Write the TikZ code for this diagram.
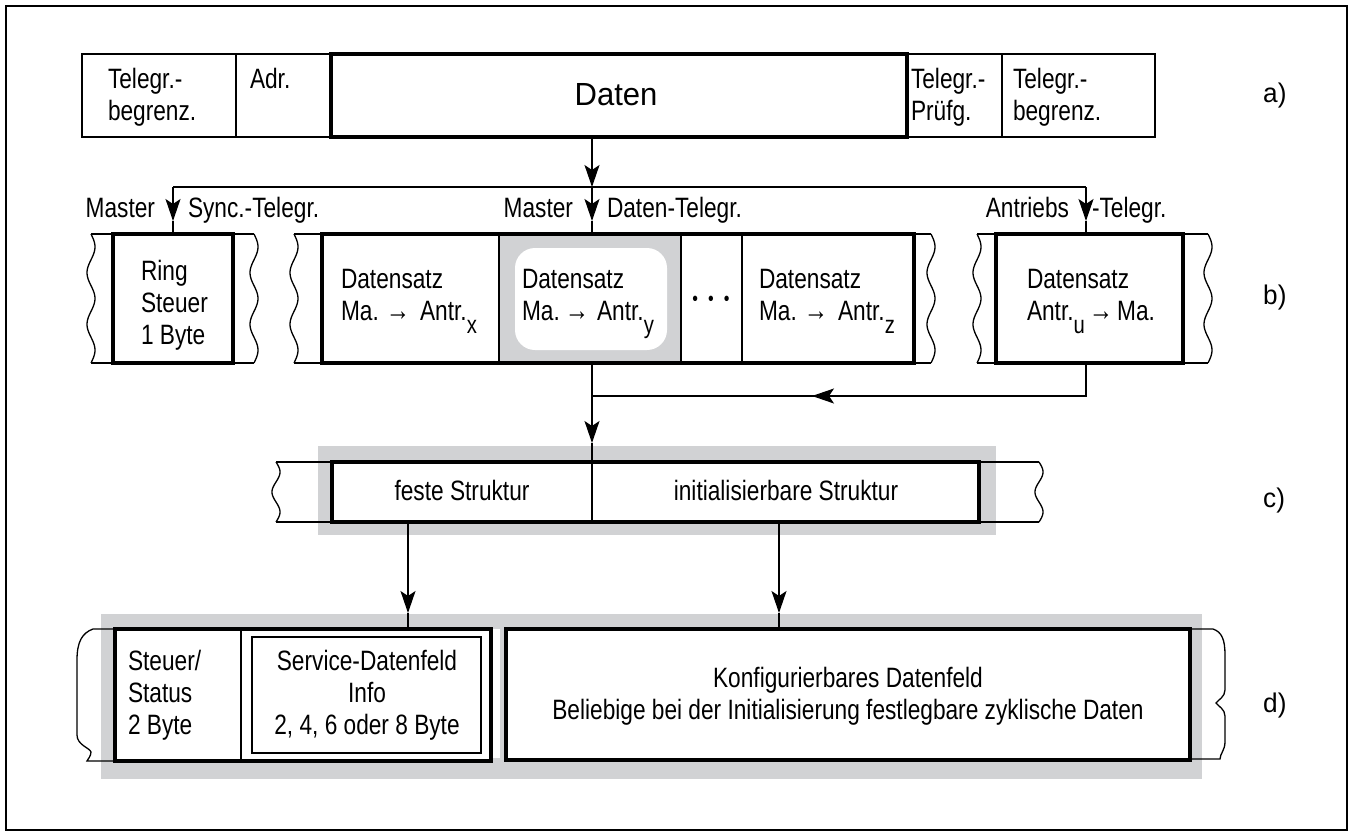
\documentclass[tikz,border=0pt]{standalone}
\usepackage{fontspec}
\setmainfont{Liberation Sans}[FakeStretch=0.81]
\newfontfamily\normfont{Liberation Sans}[FakeStretch=0.97]
\usetikzlibrary{arrows.meta}
\definecolor{bandgray}{RGB}{209,210,212}
\newcommand\mltext[2]{\begin{tabular}[t]{@{}#1@{}}#2\end{tabular}}
\newcommand\lowsub[1]{\raisebox{-13pt}{\fontsize{25}{25}\selectfont #1}}
\newcommand\smallarr{{\fontsize{30}{30}\selectfont →}}
\newcommand\wavyedge[4]{\draw[ln] plot[domain=0:1,samples=60,smooth,variable=\t] ({#1+4*sin(\t*#4)},{#2+\t*(#3-#2)});}
\begin{document}
\begin{tikzpicture}[x=1pt,y=-1pt,
  ln/.style={line width=1.3pt},
  bx/.style={draw,line width=3.2pt,fill=white,inner sep=0pt,outer sep=0pt,anchor=north west},
  txt/.style={font=\fontsize{28}{32}\selectfont,inner sep=0pt,outer sep=0pt},
  lbl/.style={font=\normfont\fontsize{27}{30}\selectfont,inner sep=0pt,anchor=base west},
  arr/.style={ln,-{Stealth[length=22pt,width=15pt,inset=5pt]}}]
\useasboundingbox (0,0) rectangle (1353,836);
% outer frame
\draw[ln] (6,6) rectangle (1347,830);

% ---------------- row a ----------------
\draw[ln] (82,54) rectangle (1155,137);
\draw[ln] (236,54) -- (236,137);
\draw[ln] (1002,54) -- (1002,137);
\node[bx,minimum width=576pt,minimum height=83pt] (daten) at (331,54) {};
\node[txt,anchor=base west] (ta1) at (108,88) {\mltext{l}{Telegr.-\\begrenz.}};
\node[txt,anchor=base west] (ta2) at (250,88) {Adr.};
\node[font=\normfont\fontsize{32}{36}\selectfont,inner sep=0pt,anchor=base] (ta3) at (616,105) {Daten};
\node[txt,anchor=base west] (ta4) at (911,88) {\mltext{l}{Telegr.-\\Prüfg.}};
\node[txt,anchor=base west] (ta5) at (1013,88) {\mltext{l}{Telegr.-\\begrenz.}};
\node[lbl] (la) at (1263,102) {a)};

% junction line
\coordinate (j0) at (592,187);
\coordinate (jl) at (173,187);
\coordinate (jr) at (1086,187);
\draw[arr] (daten.south -| j0) -- (j0);
\draw[ln] (jl) -- (jr);

% ---------------- row b ----------------
% Ring group
\draw[ln] (91,234) -- (254,234);
\draw[ln] (91,363) -- (254,363);
\wavyedge{91}{234}{363}{900}
\wavyedge{254}{234}{363}{900}
\node[bx,minimum width=120pt,minimum height=129pt] (ring) at (113,234) {};
\node[txt,anchor=base west] (tring) at (141,280) {\mltext{l}{Ring\\Steuer\\1 Byte}};

% middle group
\draw[ln] (294,234) -- (931,234);
\draw[ln] (294,363) -- (931,363);
\wavyedge{294}{234}{363}{900}
\wavyedge{931}{234}{363}{900}
\node[bx,minimum width=592pt,minimum height=129pt] (mid) at (322,234) {};
\fill[bandgray] (499,234) rectangle (681,363);
\fill[white,rounded corners=20pt] (515,248) rectangle (667,350);
\draw[bx,fill=none] (322,234) rectangle (914,363);
\draw[ln] (499,234) -- (499,363);
\draw[ln] (681,234) -- (681,363);
\draw[ln] (742,234) -- (742,363);
\node[txt,anchor=base west] (tb1) at (341,288) {\mltext{l}{Datensatz\\Ma.\hspace{7pt}\smallarr\hspace{10pt}Antr.\lowsub{x}}};
\node[txt,anchor=base west] (tb2) at (522,288) {\mltext{l}{Datensatz\\Ma.\hspace{5pt}\smallarr\hspace{8pt}Antr.\lowsub{y}}};
\node[font=\fontsize{20}{20}\selectfont,inner sep=0pt,anchor=base] (dots) at (711,305) {•\hspace{10pt}•\hspace{10pt}•};
\node[txt,anchor=base west] (tb4) at (759,288) {\mltext{l}{Datensatz\\Ma.\hspace{7pt}\smallarr\hspace{10pt}Antr.\lowsub{z}}};

% right group
\draw[ln] (977,234) -- (1208,234);
\draw[ln] (977,363) -- (1208,363);
\wavyedge{977}{234}{363}{900}
\wavyedge{1208}{234}{363}{900}
\node[bx,minimum width=187pt,minimum height=129pt] (antr) at (996,234) {};
\node[txt,anchor=base west] (tb5) at (1027,288) {\mltext{l}{Datensatz\\Antr.\lowsub{u}\hspace{4pt}\smallarr\hspace{4pt}Ma.}};
\node[lbl] (lb) at (1263,304) {b)};

% branch arrows and labels
\draw[arr] (jl) -- (173,221);
\draw[ln] (173,221) -- (ring.north -| jl);
\draw[arr] (j0) -- (592,221);
\draw[ln] (592,221) -- (mid.north -| j0);
\draw[arr] (jr) -- (1086,221);
\draw[ln] (1086,221) -- (antr.north -| jr);
\node[txt,anchor=base east] (m1) at (155,217) {Master};
\node[txt,anchor=base west] (m2) at (188,217) {Sync.-Telegr.};
\node[txt,anchor=base east] (m3) at (573,217) {Master};
\node[txt,anchor=base west] (m4) at (607,217) {Daten-Telegr.};
\node[txt,anchor=base east] (m5) at (1069,217) {Antriebs};
\node[txt,anchor=base west] (m6) at (1092,217) {-Telegr.};

% return path
\coordinate (rb) at (1086,396);
\coordinate (mb) at (592,396);
\draw[ln] (antr.south -| rb) -- (rb) -- (mb);
\draw[arr] (rb) -- (812,396);

% ---------------- row c ----------------
\fill[bandgray] (318,446) rectangle (996,535);
\node[bx,minimum width=647pt,minimum height=60pt] (cbox) at (332,462) {};
\draw[arr] (mid.south -| mb) -- (592,443);
\draw[ln] (592,443) -- (cbox.north -| mb);
\draw[ln] (592,462) -- (592,522);
\draw[ln] (276,462) -- (332,462);
\draw[ln] (276,522) -- (332,522);
\draw[ln] (979,462) -- (1039,462);
\draw[ln] (979,522) -- (1039,522);
\wavyedge{276}{462}{522}{540}
\wavyedge{1039}{462}{522}{540}
\node[txt,anchor=base] (tc1) at (462,500) {feste Struktur};
\node[txt,anchor=base] (tc2) at (786,500) {initialisierbare Struktur};
\node[lbl] (lc) at (1263,507) {c)};

% ---------------- row d ----------------
\fill[bandgray] (101,614) rectangle (1202,779);
\fill[white] (491,629) rectangle (500,758);
\node[bx,minimum width=376pt,minimum height=132pt] (dl) at (115,629) {};
\node[bx,minimum width=684pt,minimum height=131pt] (dr) at (506,629) {};
\draw[ln] (241,629) -- (241,761);
\draw[ln] (252,637) rectangle (481,753);
\node[txt,anchor=base west] (td1) at (128,670) {\mltext{l}{Steuer/\\Status\\2 Byte}};
\node[txt,anchor=base] (td2) at (367,670) {\mltext{c}{Service-Datenfeld\\Info\\2, 4, 6 oder 8 Byte}};
\node[txt,anchor=base] (td3) at (848,687) {\mltext{c}{Konfigurierbares Datenfeld\\Beliebige bei der Initialisierung festlegbare zyklische Daten}};
\node[lbl] (ld) at (1263,712) {d)};
% braces
\draw[ln] (dl.north west) -- (93,629) .. controls (82,633) and (77,642) .. (77,660) -- (77,735)
  .. controls (77,745) and (90,748) .. (91,752) .. controls (91,756) and (88,759) .. (87,761) -- (dl.south west);
\draw[ln] (dr.north east) -- (1213,629) .. controls (1222,632) and (1225,640) .. (1225,655) -- (1225,690)
  .. controls (1225,697) and (1218,700) .. (1216,703) .. controls (1218,706) and (1225,709) .. (1225,716) -- (1225,742)
  .. controls (1225,750) and (1220,754) .. (1220,759) -- (1190,759);

% arrows c -> d
\coordinate (cdl) at (408,613);
\coordinate (cdr) at (779,613);
\draw[arr] (cbox.south -| cdl) -- (cdl);
\draw[ln] (cdl) -- (dl.north -| cdl);
\draw[arr] (cbox.south -| cdr) -- (cdr);
\draw[ln] (cdr) -- (dr.north -| cdr);
\end{tikzpicture}
\end{document}
